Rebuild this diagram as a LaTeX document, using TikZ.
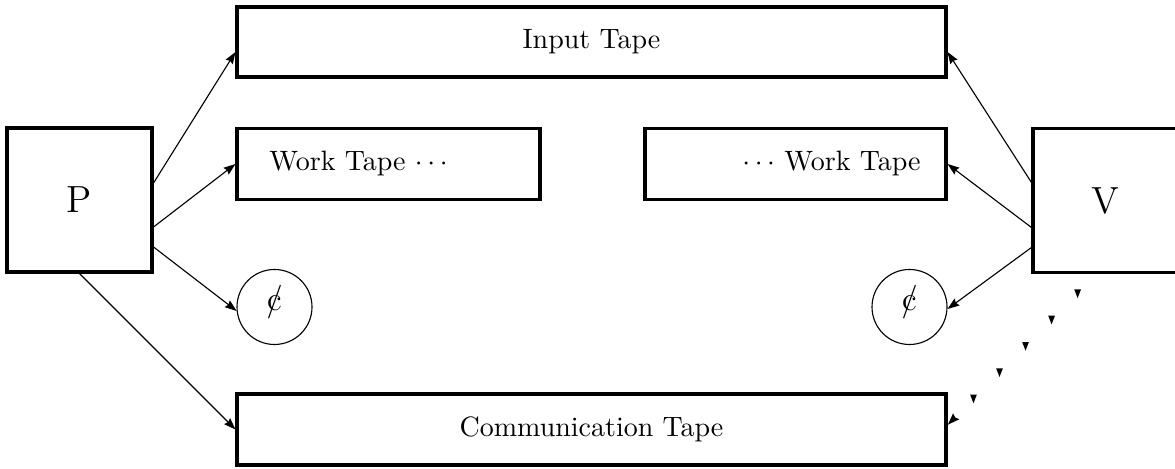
\documentclass[tikz,border=0pt]{standalone}
\usetikzlibrary{arrows.meta,decorations.markings}
\def\pxu{0.357pt}
\newcommand{\centsym}{\ooalign{\hfil c\hfil\cr\hfil/\hfil}}
\tikzset{
  tape/.style={draw, line width=1.1pt, rectangle, inner sep=0pt},
  agent/.style={draw, line width=1.1pt, rectangle, inner sep=0pt,
    minimum width={145*\pxu}, minimum height={144*\pxu},
    font=\fontsize{13.5}{16}\selectfont},
  coin/.style={draw, line width=0.4pt, circle, inner sep=0pt,
    minimum size={75*\pxu}, font=\large},
  link/.style={line width=0.4pt, -{Stealth[length=4.2pt,width=3pt,inset=0.5pt]}},
  dotlink/.style={decoration={markings,
      mark=between positions 0.13 and 0.83 step 0.1745 with {
        \pgftransformresetnontranslations
        \fill (-1.2pt,1.5pt) -- (1.2pt,1.5pt) -- (0pt,-1.6pt) -- cycle;},
      mark=at position 1 with {\arrow{Stealth[length=4.2pt,width=3pt,inset=0.5pt]}}},
    postaction={decorate}}
}
\begin{document}
\begin{tikzpicture}[x=0.357pt, y=-0.357pt]
\useasboundingbox (0,0) rectangle (1175,469);

% agents
\node[agent] (P) at (79.5,200) {P};
\node[agent] (V) at (1105.5,200.5) {V};

% tapes
\node[tape, minimum width={709*\pxu}, minimum height={70*\pxu}] (in) at (591.5,42) {Input Tape};
\node[tape, minimum width={303*\pxu}, minimum height={71*\pxu}] (wl) at (388.5,164) {};
\node[tape, minimum width={301*\pxu}, minimum height={71*\pxu}] (wr) at (795.5,164) {};
\node[tape, minimum width={709*\pxu}, minimum height={71*\pxu}] (comm) at (591.5,429.5) {Communication Tape};

\node[anchor=west] (wlt) at ([xshift={24*\pxu}]wl.west) {Work Tape $\cdots$};
\node[anchor=east] (wrt) at ([xshift={-17*\pxu}]wr.east) {$\cdots$ Work Tape};

% private coins
\node[coin] (cl) at (274.5,307) {\centsym};
\node[coin] (cr) at (909.5,307) {\centsym};

% prover connections
\draw[link] ([yshift={17*\pxu}]P.east) -- ([yshift={-10*\pxu}]in.west);
\draw[link] ([yshift={-27*\pxu}]P.east) -- (wl.west);
\draw[link] ([yshift={-47*\pxu}]P.east) -- (cl.186);
\draw[link] (P.south) -- (comm.west);

% verifier connections
\draw[link] ([yshift={18*\pxu}]V.west) -- ([yshift={-10*\pxu}]in.east);
\draw[link] ([yshift={-27*\pxu}]V.west) -- (wr.east);
\draw[link] ([yshift={-47*\pxu}]V.west) -- (cr.-3);
\path[dotlink] ([xshift={-8.5*\pxu}]V.south) -- ([yshift={4.5*\pxu}]comm.east);
\end{tikzpicture}
\end{document}
